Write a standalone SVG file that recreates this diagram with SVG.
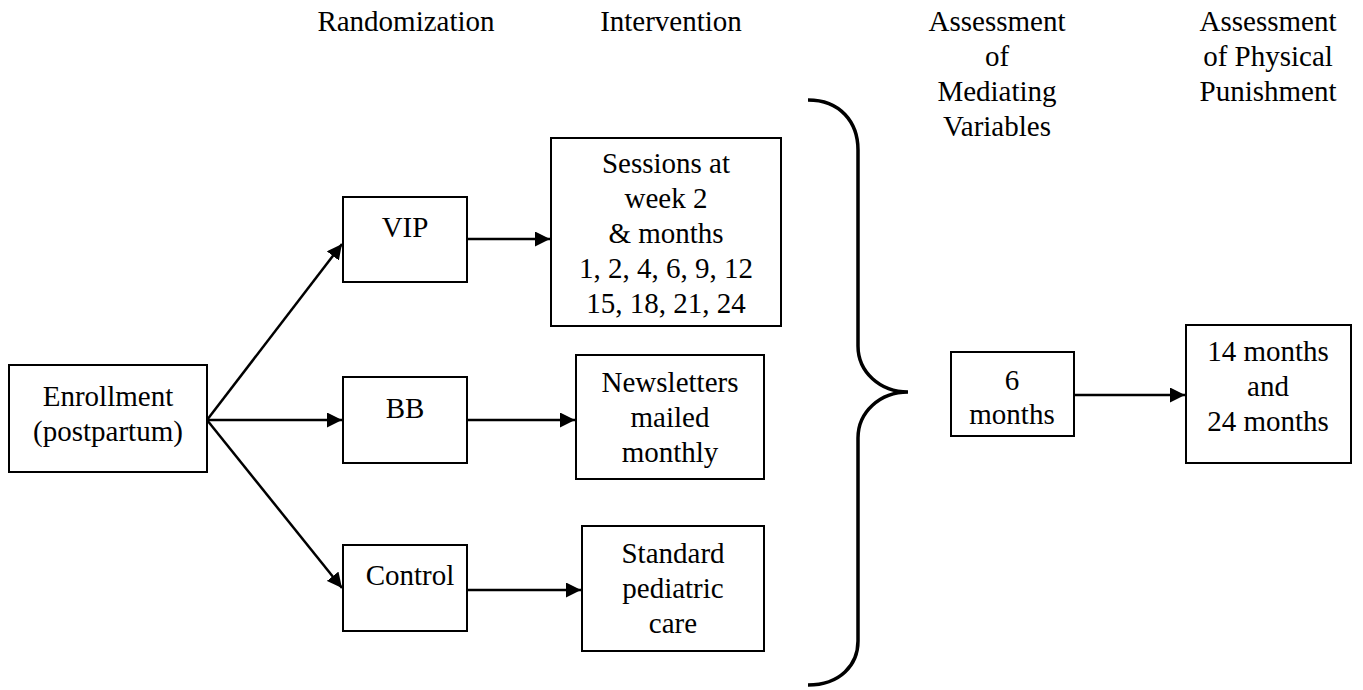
<svg xmlns="http://www.w3.org/2000/svg" width="1363" height="690" viewBox="0 0 1363 690">
<style>
text{font-size:29px;fill:#000;text-anchor:middle}
.box{fill:#fff;stroke:#000;stroke-width:2}
.con{stroke:#000;stroke-width:2.5;fill:none;marker-end:url(#ah)}
</style>
<defs>
<marker id="ah" viewBox="0 0 10 10" refX="10" refY="5" markerWidth="6" markerHeight="6" markerUnits="strokeWidth" orient="auto">
<path d="M0,0 L10,5 L0,10 z" fill="#000"/>
</marker>
</defs>
<rect width="1363" height="690" fill="#fff"/>
<g font-family="Liberation Serif, Times New Roman, serif">
<g id="headers">
<text x="406" y="31">Randomization</text>
<text x="671" y="31">Intervention</text>
<text x="997" y="31">Assessment</text>
<text x="997" y="66">of</text>
<text x="997" y="101">Mediating</text>
<text x="997" y="136">Variables</text>
<text x="1268" y="31">Assessment</text>
<text x="1268" y="66">of Physical</text>
<text x="1268" y="101">Punishment</text>
</g>
<g id="connectors">
<line class="con" x1="207" y1="420" x2="342" y2="244"/>
<line class="con" x1="207" y1="420" x2="342" y2="420"/>
<line class="con" x1="207" y1="420" x2="342" y2="588"/>
<line class="con" x1="467" y1="239" x2="550" y2="239"/>
<line class="con" x1="467" y1="420" x2="575" y2="420"/>
<line class="con" x1="467" y1="590" x2="581" y2="590"/>
<line class="con" x1="1074" y1="395" x2="1185" y2="395"/>
</g>
<g id="brace">
<path d="M808,100 C840,100 858,122 858,150 L858,346 C858,372 880,392 908,392 C880,392 858,412 858,438 L858,641 C858,665 840,685 808,685" fill="none" stroke="#000" stroke-width="3.5"/>
</g>
<g id="enrollment">
<rect class="box" x="9" y="365" width="198" height="107"/>
<text x="108" y="406">Enrollment</text>
<text x="108" y="441">(postpartum)</text>
</g>
<g id="vip">
<rect class="box" x="343" y="197" width="124" height="85"/>
<text x="405" y="237">VIP</text>
</g>
<g id="bb">
<rect class="box" x="343" y="377" width="124" height="86"/>
<text x="405" y="418">BB</text>
</g>
<g id="control">
<rect class="box" x="343" y="545" width="124" height="86"/>
<text x="410" y="585">Control</text>
</g>
<g id="sessions">
<rect class="box" x="551" y="138" width="230" height="188"/>
<text x="666" y="173">Sessions at</text>
<text x="666" y="208">week 2</text>
<text x="666" y="243">&amp; months</text>
<text x="666" y="278">1, 2, 4, 6, 9, 12</text>
<text x="666" y="313">15, 18, 21, 24</text>
</g>
<g id="newsletters">
<rect class="box" x="576" y="355" width="188" height="124"/>
<text x="670" y="392">Newsletters</text>
<text x="670" y="427">mailed</text>
<text x="670" y="462">monthly</text>
</g>
<g id="standard">
<rect class="box" x="582" y="526" width="182" height="125"/>
<text x="673" y="563">Standard</text>
<text x="673" y="598">pediatric</text>
<text x="673" y="633">care</text>
</g>
<g id="six">
<rect class="box" x="951" y="352" width="123" height="84"/>
<text x="1012" y="390">6</text>
<text x="1012" y="424">months</text>
</g>
<g id="fourteen">
<rect class="box" x="1186" y="325" width="165" height="138"/>
<text x="1268" y="361">14 months</text>
<text x="1268" y="396">and</text>
<text x="1268" y="431">24 months</text>
</g>
</g>
</svg>
